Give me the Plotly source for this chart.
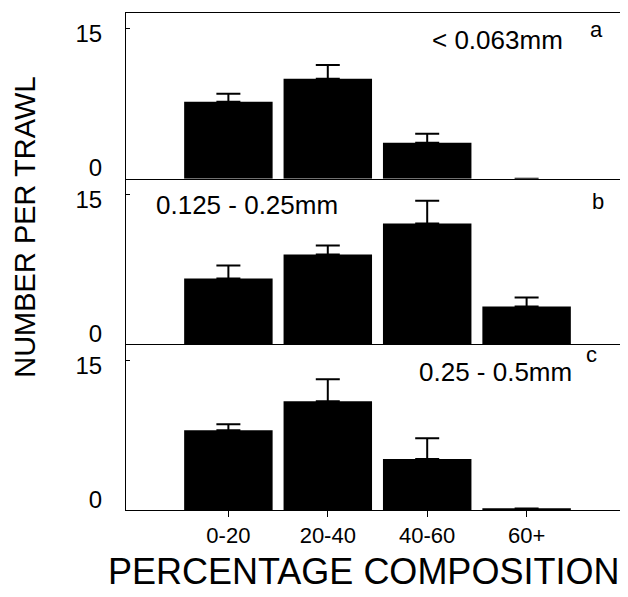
import plotly.graph_objects as go
from plotly.subplots import make_subplots

categories = ["0-20", "20-40", "40-60", "60+"]

# panel a: < 0.063mm
values_a = [7.7, 10.0, 3.6, 0.0]
errors_a = [0.8, 1.4, 0.9, 0.0]
# panel b: 0.125 - 0.25mm
values_b = [6.6, 9.0, 12.1, 3.8]
errors_b = [1.3, 0.9, 2.3, 0.9]
# panel c: 0.25 - 0.5mm
values_c = [8.0, 10.9, 5.1, 0.15]
errors_c = [0.6, 2.2, 2.1, 0.0]

panel_labels = ["< 0.063mm", "0.125 - 0.25mm", "0.25 - 0.5mm"]
panel_letters = ["a", "b", "c"]
y_tickvals = [0, 15]
y_ticktext = ["0<br> ", "15"]

FONT = "Liberation Sans, Arial, Helvetica, sans-serif"

fig = make_subplots(rows=3, cols=1, shared_xaxes=True, vertical_spacing=0)

for i, (vals, errs) in enumerate([(values_a, errors_a), (values_b, errors_b), (values_c, errors_c)]):
    fig.add_trace(
        go.Bar(
            x=categories,
            y=vals,
            marker=dict(color="black", line=dict(width=0)),
            width=0.89,
            error_y=dict(type="data", array=errs, symmetric=False, arrayminus=[0] * len(errs),
                         color="black", thickness=2, width=12),
            showlegend=False,
        ),
        row=i + 1, col=1,
    )

for r in range(1, 4):
    fig.update_yaxes(
        range=[0, 16.6], tickvals=y_tickvals, ticktext=y_ticktext,
        ticks="inside", ticklen=4, tickcolor="black", tickwidth=1,
        showline=True, linecolor="black", linewidth=1,
        showgrid=False, zeroline=False,
        tickfont=dict(family=FONT, size=24, color="black"),
        ticklabelstandoff=18, ticklabelshift=5,
        row=r, col=1,
    )
    fig.update_xaxes(
        range=[-1.03, 4.02], showline=True, linecolor="black", linewidth=1,
        showgrid=False, zeroline=False,
        ticks="" if r < 3 else "outside", ticklen=6, tickcolor="black",
        showticklabels=(r == 3),
        tickfont=dict(family=FONT, size=22, color="black"),
        row=r, col=1,
    )
fig.update_xaxes(mirror=True, row=1, col=1)

annots = [
    dict(text=panel_labels[0], x=0.741, y=0.946, size=26),
    dict(text=panel_letters[0], x=0.938, y=0.966, size=22),
    dict(text=panel_labels[1], x=0.241, y=0.614, size=26),
    dict(text=panel_letters[1], x=0.940, y=0.620, size=22),
    dict(text=panel_labels[2], x=0.737, y=0.278, size=26),
    dict(text=panel_letters[2], x=0.928, y=0.312, size=22),
]
for a in annots:
    fig.add_annotation(text=a["text"], x=a["x"], y=a["y"], xref="paper", yref="paper",
                       showarrow=False, xanchor="center", yanchor="middle",
                       font=dict(family=FONT, size=a["size"], color="black"))

fig.add_annotation(text="PERCENTAGE COMPOSITION", x=0.474, y=-0.123, xref="paper", yref="paper",
                   showarrow=False, xanchor="center", yanchor="middle",
                   font=dict(family=FONT, size=36, color="black"))
fig.add_annotation(text="NUMBER PER TRAWL", x=-0.2, y=0.569, xref="paper", yref="paper",
                   showarrow=False, xanchor="center", yanchor="middle", textangle=-90,
                   font=dict(family=FONT, size=29, color="black"))

fig.update_layout(
    width=620, height=589,
    margin=dict(l=118, r=0, t=5, b=87),
    plot_bgcolor="white", paper_bgcolor="white",
    bargap=0.11,
)

fig.write_html("out.html")
